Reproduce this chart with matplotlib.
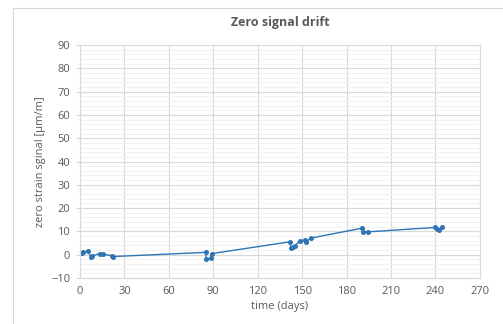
import matplotlib.pyplot as plt
from matplotlib.patches import Rectangle
from matplotlib.ticker import MultipleLocator

# dati
giorni = [1.1, 2.2, 5.6, 7.2, 8.3, 13.4, 15.6, 21.6, 22.3,
          85.0, 85.2, 88.2, 89.3,
          141.5, 142.6, 143.6, 145.0, 148.4, 151.7, 152.8, 155.7,
          190.6, 191.3, 194.4,
          240.0, 241.0, 242.6, 244.4]
segnale = [0.8, 1.0, 1.4, -0.9, -0.5, 0.5, 0.3, -0.5, -0.8,
           1.0, -2.0, -1.5, 0.5,
           5.5, 3.0, 3.2, 3.8, 5.9, 6.2, 5.5, 7.1,
           11.4, 9.8, 9.8,
           11.7, 10.9, 10.5, 11.7]

x_ticks = list(range(0, 271, 30))
y_ticks = list(range(-10, 91, 10))

plt.rcParams['font.family'] = ['Open Sans', 'DejaVu Sans']
testo = '#595959'

fig = plt.figure(figsize=(5.03, 3.24), dpi=100)
ax = fig.add_axes([0.159, 0.142, 0.795, 0.719])

# bordo esterno del grafico
fig.patches.append(Rectangle((0.026, -0.05), 1.2, 1.025, transform=fig.transFigure,
                             fill=False, edgecolor='#d9d9d9', linewidth=0.8))

ax.plot(giorni, segnale, color='#2e75b6', linewidth=1.0, marker='o', markersize=2.6)

ax.set_xlim(0, 270)
ax.set_ylim(-10, 90)
ax.set_xticks(x_ticks)
ax.set_yticks(y_ticks)
ax.yaxis.set_minor_locator(MultipleLocator(2))
ax.grid(True, which='major', color='#d9d9d9', linewidth=0.8)
ax.grid(True, which='minor', axis='y', color='#f0f0f0', linewidth=0.6)
ax.set_axisbelow(True)
for s in ax.spines.values():
    s.set_color('#d9d9d9')
    s.set_linewidth(0.8)
ax.tick_params(which='both', length=0, labelsize=8, colors=testo, pad=6)
ax.tick_params(axis='y', which='major', length=3, color='#d9d9d9', pad=4)

ax.set_title('Zero signal drift', fontsize=9, fontweight='bold', color=testo, pad=14)
ax.set_xlabel('time (days)', fontsize=8, color=testo, labelpad=3)
ax.set_ylabel('zero strain sginal [µm/m]', fontsize=8, color=testo, labelpad=4)

plt.savefig('out.png', dpi=100)
